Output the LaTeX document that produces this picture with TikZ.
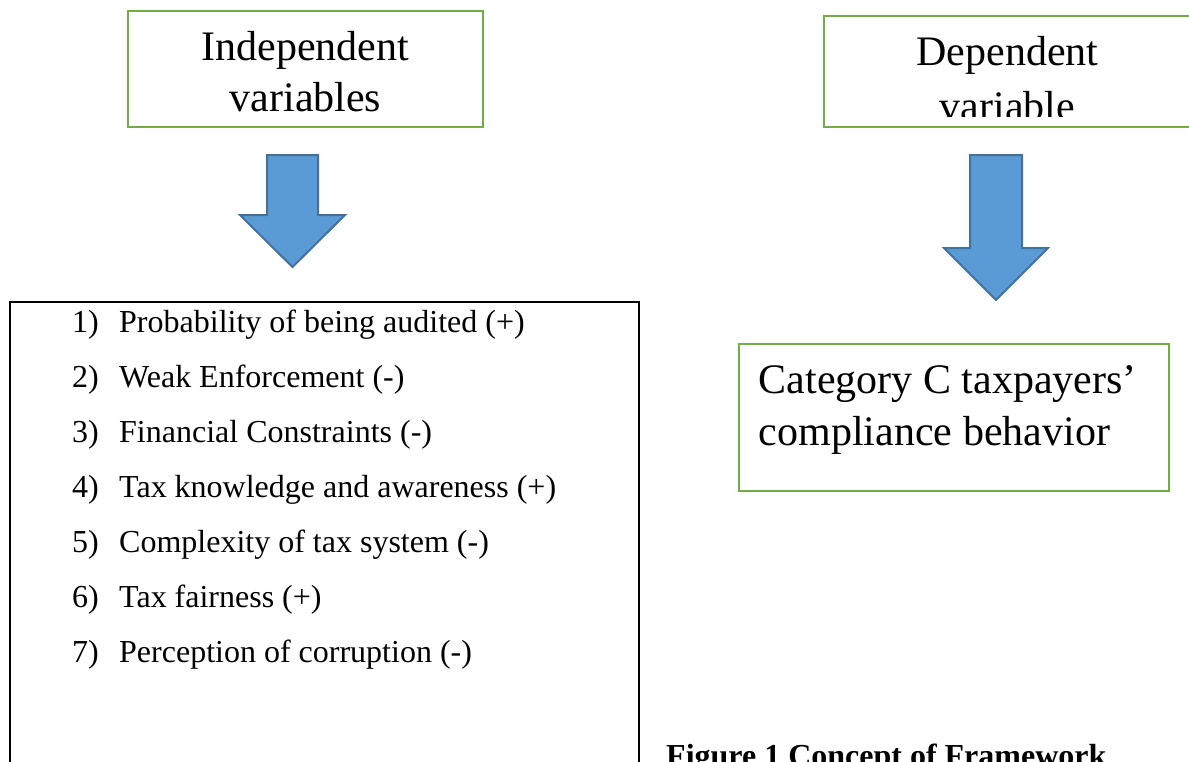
\documentclass[tikz,border=0pt]{standalone}
\usepackage{fontspec}
\setmainfont{Liberation Serif}
\usepackage{tikz}
\usetikzlibrary{positioning, calc}
\definecolor{boxgreen}{RGB}{112,173,71}
\definecolor{arrowblue}{RGB}{91,155,213}
\definecolor{arrowedge}{RGB}{65,113,156}

\begin{document}
\begin{tikzpicture}[x=1pt, y=-1pt,
    greenbox/.style={rectangle, draw=boxgreen, line width=2.5pt, inner sep=0pt},
    headtext/.style={font=\fontsize{42}{51}\selectfont, inner sep=0pt},
    itemtext/.style={font=\fontsize{32}{40}\selectfont, inner sep=0pt},
    blockarrow/.style={fill=arrowblue, draw=arrowedge, line width=2pt, line join=miter}]
    \useasboundingbox (0,0) rectangle (1189,761);
    \clip (0,0) rectangle (1189,761);

    % Variables indépendantes
    \node[greenbox, minimum width=355pt, minimum height=116pt] (indep) at (305.5,69) {};
    \node[headtext, anchor=base] (indeptop) at ($(indep.north)+(0,51)$) {Independent};
    \node[headtext, anchor=base] (indepbot) at ($(indep.north)+(0,102)$) {variables};

    % Variable dépendante
    \node[greenbox, minimum width=367pt, minimum height=111pt] (dep) at (1007.5,71.5) {};
    \begin{scope}
        \clip ($(dep.north west)+(2,2)$) rectangle ($(dep.south east)+(-2,-12)$);
        \node[headtext, anchor=base] (deptop) at ($(dep.north)+(0,51)$) {Dependent};
        \node[headtext, anchor=base] (depbot) at ($(dep.north)+(0,106)$) {variable};
    \end{scope}

    % Flèches
    \draw[blockarrow] (267,155) -- (318,155) -- (318,215) -- (345,215) -- (292.5,267) -- (240,215) -- (267,215) -- cycle;
    \draw[blockarrow] (970,155) -- (1022,155) -- (1022,248) -- (1048,248) -- (996,300) -- (944,248) -- (970,248) -- cycle;

    % Liste des facteurs
    \node[draw=black, line width=2pt, minimum width=629pt, minimum height=498pt, inner sep=0pt] (factors) at (324.5,551) {};
    \foreach \txt [count=\i] in {{Probability of being audited (+)}, {Weak Enforcement (-)}, {Financial Constraints (-)}, {Tax knowledge and awareness (+)}, {Complexity of tax system (-)}, {Tax fairness (+)}, {Perception of corruption (-)}} {
        \node[itemtext, anchor=base east] (num\i) at ($(factors.north west)+(90,{31+55*(\i-1)})$) {\i)};
        \node[itemtext, anchor=base west] (item\i) at ($(factors.north west)+(110,{31+55*(\i-1)})$) {\txt};
    }

    % Comportement
    \node[greenbox, minimum width=430pt, minimum height=147pt] (outcome) at (954,417.5) {};
    \node[headtext, anchor=base west] (outtop) at ($(outcome.north west)+(21,51)$) {Category C taxpayers’};
    \node[headtext, anchor=base west] (outbot) at ($(outcome.north west)+(21,103)$) {compliance behavior};

    % Légende
    \node[itemtext, font=\fontsize{32}{40}\selectfont\bfseries, anchor=base west] (caption) at (666,766) {Figure 1 Concept of Framework};
\end{tikzpicture}
\end{document}
